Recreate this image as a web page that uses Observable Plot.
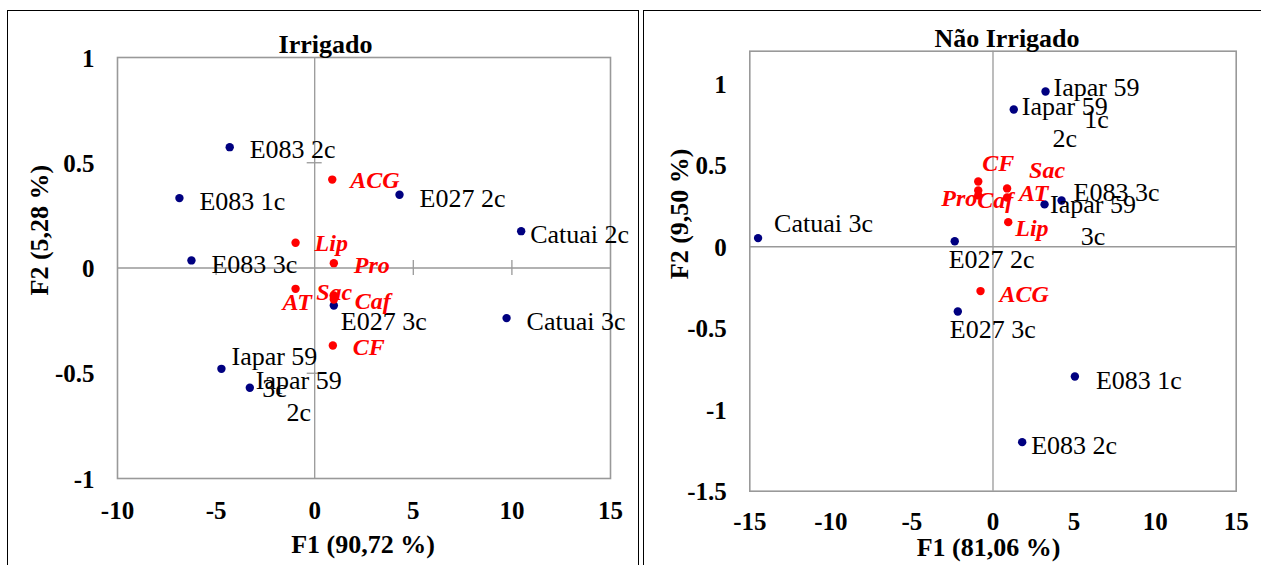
<!DOCTYPE html>
<html><head><meta charset="utf-8">
<script src="https://cdn.jsdelivr.net/npm/d3@7"></script>
<script src="https://cdn.jsdelivr.net/npm/@observablehq/plot@0.6"></script>
<style>
html,body{margin:0;padding:0;background:#fff;}
#page{position:relative;width:1261px;height:565px;overflow:hidden;background:#fff;font-family:"Liberation Serif","Times New Roman",serif;}
.box{position:absolute;border:1.5px solid #000;box-sizing:border-box;}
.panel{position:absolute;top:0;}
.panel svg{overflow:visible;}
</style></head><body><div id="page">
<div class="box" style="left:7px;top:10px;width:632px;height:600px"></div>
<div class="box" style="left:642.5px;top:10px;width:630px;height:600px"></div>
<div class="panel" id="p1" style="left:0px"></div>
<div class="panel" id="p2" style="left:640px"></div>
</div>
<script>
// ---------- Irrigado ----------
const irrTitle = "Irrigado";
const irrXLabel = "F1 (90,72 %)";
const irrYLabel = "F2 (5,28 %)";
const irrXTicks = [-10, -5, 0, 5, 10, 15];
const irrXTickLabels = ["-10", "-5", "0", "5", "10", "15"];
const irrYTicks = [1, 0.5, 0, -0.5, -1];
const irrYTickLabels = ["1", "0.5", "0", "-0.5", "-1"];
const irrObs = ["E083 2c", "E083 1c", "E083 3c", "E027 2c", "Catuai 2c", "E027 3c", "Catuai 3c", "Iapar 59\n3c", "Iapar 59\n2c"];
const irrObsF1 = [-4.31, -6.86, -6.25, 4.30, 10.47, 0.97, 9.73, -4.73, -3.29];
const irrObsF2 = [0.574, 0.332, 0.036, 0.348, 0.175, -0.178, -0.238, -0.479, -0.569];
const irrVar = ["ACG", "Lip", "Pro", "AT", "Sac", "Caf", "CF"];
const irrVarF1 = [0.89, -0.97, 0.97, -0.97, 0.97, 0.97, 0.92];
const irrVarF2 = [0.42, 0.12, 0.023, -0.099, -0.13, -0.15, -0.368];

// ---------- Não Irrigado ----------
const naoTitle = "Não Irrigado";
const naoXLabel = "F1 (81,06 %)";
const naoYLabel = "F2 (9,50 %)";
const naoXTicks = [-15, -10, -5, 0, 5, 10, 15];
const naoXTickLabels = ["-15", "-10", "-5", "0", "5", "10", "15"];
const naoYTicks = [1, 0.5, 0, -0.5, -1, -1.5];
const naoYTickLabels = ["1", "0.5", "0", "-0.5", "-1", "-1.5"];
const naoObs = ["Catuai 3c", "E027 2c", "E027 3c", "E083 1c", "E083 2c", "E083 3c", "Iapar 59\n1c", "Iapar 59\n2c", "Iapar 59\n3c"];
const naoObsF1 = [-14.49, -2.36, -2.17, 5.05, 1.80, 4.23, 3.24, 1.28, 3.18];
const naoObsF2 = [0.053, 0.034, -0.397, -0.796, -1.199, 0.284, 0.953, 0.842, 0.260];
const naoVar = ["CF", "Pro", "Caf", "Sac", "AT", "Lip", "ACG"];
const naoVarF1 = [-0.91, -0.91, -0.91, 0.87, 0.87, 0.94, -0.77];
const naoVarF2 = [0.40, 0.345, 0.315, 0.358, 0.302, 0.151, -0.272];

// label placement (pixel offsets from each point: dx, dy, anchor)
const irrObsOff = [[20,1,"start"],[20,2,"start"],[20,2,"start"],[20,2,"start"],[9,2,"start"],[7,14,"start"],[20,2,"start"],[53,2,"middle"],[49,7,"middle"]];
const irrVarOff = [[18,1,"start"],[19,1,"start"],[20,2,"start"],[-13,13,"start"],[-17.6,-3.4,"start"],[21,2,"start"],[20,1.5,"start"]];
const naoObsOff = [[16,-16,"start"],[-6,17,"start"],[-8,16,"start"],[21,2,"start"],[9,2,"start"],[12,-10,"start"],[51,10,"middle"],[51,11.5,"middle"],[48.5,14,"middle"]];
const naoVarOff = [[4,-18,"start"],[-1,8,"end"],[-1,5,"start"],[22,-18,"start"],[12,-4,"start"],[7,6,"start"],[19,3,"start"]];

const FONT = "Liberation Serif";
const NAVY = "#000080", RED = "#ff0000", GRID = "#999999";

function panel(c) {
  const idxO = d3.range(c.obs.length), idxV = d3.range(c.vars.length);
  const fw = c.width - c.ml - c.mr, fh = c.height - c.mt - c.mb;
  const kx = 7.5 * (c.xDomain[1] - c.xDomain[0]) / fw;
  const ky = 7.5 * (c.yDomain[1] - c.yDomain[0]) / fh;
  const marks = [
    Plot.ruleY([0], {stroke: GRID, strokeWidth: 1.3}),
    Plot.ruleX([0], {stroke: GRID, strokeWidth: 1.3}),
    Plot.frame({stroke: GRID, strokeWidth: 1.6})
  ];
  if (c.innerTicks) {
    marks.push(Plot.ruleX(c.innerXTicks, {x: d => d, y1: -ky, y2: ky, stroke: GRID, strokeWidth: 1.3}));
    marks.push(Plot.ruleY(c.innerYTicks, {y: d => d, x1: -kx, x2: kx, stroke: GRID, strokeWidth: 1.3}));
  }
  marks.push(
    Plot.text(d3.range(c.xTicks.length), {x: i => c.xTicks[i], text: i => c.xTickLabels[i], frameAnchor: "bottom", dy: c.xtdy, lineAnchor: "middle", fontSize: 25, fontWeight: "bold", fill: "#000"}),
    Plot.text(d3.range(c.yTicks.length), {y: i => c.yTicks[i], text: i => c.yTickLabels[i], frameAnchor: "left", dx: -23, dy: 1, textAnchor: "end", lineAnchor: "middle", fontSize: 25, fontWeight: "bold", fill: "#000"}),
    Plot.text([c.title], {text: d => d, frameAnchor: "top", dx: c.tdx, dy: c.tdy, lineAnchor: "bottom", fontSize: 26, fontWeight: "bold", fill: "#000"}),
    Plot.text([c.xLabel], {text: d => d, frameAnchor: "bottom", dx: c.xldx, dy: c.xldy, lineAnchor: "bottom", fontSize: 26, fontWeight: "bold", fill: "#000"}),
    Plot.text([c.yLabel], {text: d => d, frameAnchor: "left", dx: c.yldx, dy: c.yldy, rotate: -90, lineAnchor: "middle", fontSize: 26, fontWeight: "bold", fill: "#000"}),
    Plot.dot(idxO, {x: i => c.obsX[i], y: i => c.obsY[i], r: 4.2, fill: NAVY, stroke: "none"}),
    Plot.dot(idxV, {x: i => c.varX[i], y: i => c.varY[i], r: 4.2, fill: RED, stroke: "none"})
  );
  idxO.forEach(i => marks.push(Plot.text([i], {x: j => c.obsX[j], y: j => c.obsY[j], text: j => c.obs[j], dx: c.obsOff[i][0], dy: c.obsOff[i][1], textAnchor: c.obsOff[i][2], lineAnchor: "middle", lineHeight: 1.23, fontSize: 26, fill: "#000"})));
  idxV.forEach(i => marks.push(Plot.text([i], {x: j => c.varX[j], y: j => c.varY[j], text: j => c.vars[j], dx: c.varOff[i][0], dy: c.varOff[i][1], textAnchor: c.varOff[i][2], lineAnchor: "middle", fontSize: 24, fontWeight: "bold", fontStyle: "italic", fill: RED})));
  return Plot.plot({
    width: c.width, height: c.height,
    marginLeft: c.ml, marginRight: c.mr, marginTop: c.mt, marginBottom: c.mb,
    x: {domain: c.xDomain, axis: null},
    y: {domain: c.yDomain, axis: null},
    style: {fontFamily: FONT, background: "transparent", overflow: "visible"},
    marks
  });
}

document.getElementById("p1").append(panel({
  width: 640, height: 565, ml: 117, mr: 30, mt: 57, mb: 87,
  xDomain: [-10, 15], yDomain: [-1, 1],
  xTicks: irrXTicks, xTickLabels: irrXTickLabels, yTicks: irrYTicks, yTickLabels: irrYTickLabels,
  innerTicks: true, innerXTicks: [-5, 5, 10], innerYTicks: [0.5, -0.5],
  title: irrTitle, tdx: -38.5, tdy: -5,
  xLabel: irrXLabel, xldx: -1, xldy: 74, xtdy: 32,
  yLabel: irrYLabel, yldx: -78, yldy: 27.5,
  obs: irrObs, obsX: irrObsF1, obsY: irrObsF2, obsOff: irrObsOff,
  vars: irrVar, varX: irrVarF1, varY: irrVarF2, varOff: irrVarOff
}));

document.getElementById("p2").append(panel({
  width: 621, height: 565, ml: 109.3, mr: 25.3, mt: 50.7, mb: 74.3,
  xDomain: [-15, 15], yDomain: [-1.5, 1.2],
  xTicks: naoXTicks, xTickLabels: naoXTickLabels, yTicks: naoYTicks, yTickLabels: naoYTickLabels,
  innerTicks: false,
  title: naoTitle, tdx: 14, tdy: -4.7,
  xLabel: naoXLabel, xldx: -4.5, xldy: 65, xtdy: 31,
  yLabel: naoYLabel, yldx: -70, yldy: 8,
  obs: naoObs, obsX: naoObsF1, obsY: naoObsF2, obsOff: naoObsOff,
  vars: naoVar, varX: naoVarF1, varY: naoVarF2, varOff: naoVarOff
}));
</script></body></html>
